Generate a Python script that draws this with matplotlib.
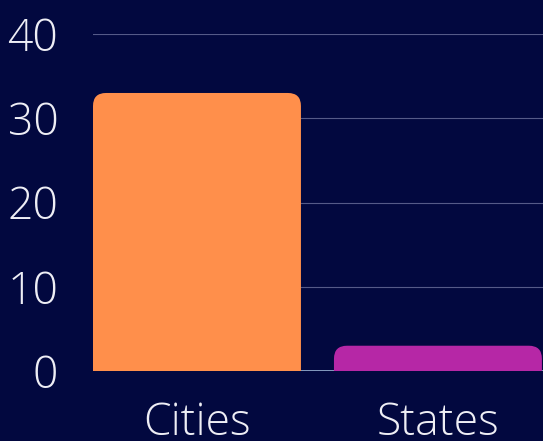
import matplotlib.pyplot as plt
from matplotlib.patches import FancyBboxPatch

categories = ['Cities', 'States']
values = [33, 3]
colors = ['#FF8F4B', '#B627A6']
yticks = [0, 10, 20, 30, 40]

bg = '#02083F'
plt.rcParams['font.family'] = ['Open Sans', 'DejaVu Sans']

fig = plt.figure(figsize=(5.43, 4.41), dpi=100, facecolor=bg)
ax = fig.add_axes([93 / 543, 70 / 441, 450 / 543, 337 / 441])
ax.set_facecolor(bg)

width = 0.863
# corner radius ~13 px, converted to data units on each axis
rx = 13 / 241
ry = 13 / 8.425
for i, (v, c) in enumerate(zip(values, colors)):
    patch = FancyBboxPatch((i - width / 2, -ry), width, v + ry,
                           boxstyle=f"round,pad=0,rounding_size={rx}",
                           mutation_aspect=ry / rx,
                           facecolor=c, edgecolor='none', zorder=3)
    ax.add_patch(patch)

ax.set_xlim(-0.4315, 1.436)
ax.set_ylim(0, 40)
ax.set_yticks(yticks)
ax.set_xticks(range(len(categories)))
ax.set_xticklabels(categories)

ax.grid(axis='y', color='#555a88', linewidth=0.8, zorder=0)
ax.axhline(0, color='#9ab4d4', linewidth=1.2, zorder=2)
for s in ax.spines.values():
    s.set_visible(False)

ax.tick_params(axis='y', length=0, pad=25, labelsize=32, labelcolor='#EEEEF5')
ax.tick_params(axis='x', length=0, pad=22, labelsize=32, labelcolor='#EEEEF5')
for lab in ax.get_xticklabels() + ax.get_yticklabels():
    lab.set_fontweight('light')

fig.savefig('out.png', dpi=100, facecolor=bg)
